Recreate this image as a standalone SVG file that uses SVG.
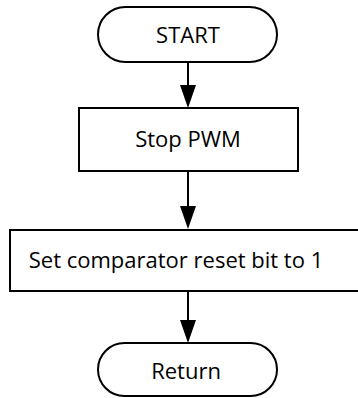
<svg xmlns="http://www.w3.org/2000/svg" width="358" height="398" viewBox="0 0 358 398">
<style>
.s{fill:#fff;stroke:#000;stroke-width:2}
.t{font-family:"Open Sans","Noto Sans",sans-serif;font-size:22px;fill:#000;text-anchor:middle}
.c{stroke:#000;stroke-width:2;fill:none}
.h{fill:#000;stroke:none}
</style>
<rect width="358" height="398" fill="#fff"/>
<g id="connectors">
<line class="c" x1="188" y1="62" x2="188" y2="88"/>
<polygon class="h" points="180,85 196,85 188,108"/>
<line class="c" x1="188" y1="171" x2="188" y2="209"/>
<polygon class="h" points="180,206 196,206 188,229"/>
<line class="c" x1="188" y1="291" x2="188" y2="323"/>
<polygon class="h" points="180,320 196,320 188,343"/>
</g>
<g id="start">
<rect class="s" x="98" y="7" width="179" height="55" rx="27.5" ry="27.5"/>
<text class="t" x="188" y="42.5">START</text>
</g>
<g id="stop-pwm">
<rect class="s" x="79" y="108" width="219" height="63"/>
<text class="t" x="188" y="147">Stop PWM</text>
</g>
<g id="set-reset">
<rect class="s" x="10" y="230" width="360" height="61"/>
<text class="t" x="176" y="268">Set comparator reset bit to 1</text>
</g>
<g id="return">
<rect class="s" x="98" y="343" width="179" height="53" rx="26.5" ry="26.5"/>
<text class="t" x="186" y="378.5">Return</text>
</g>
</svg>
